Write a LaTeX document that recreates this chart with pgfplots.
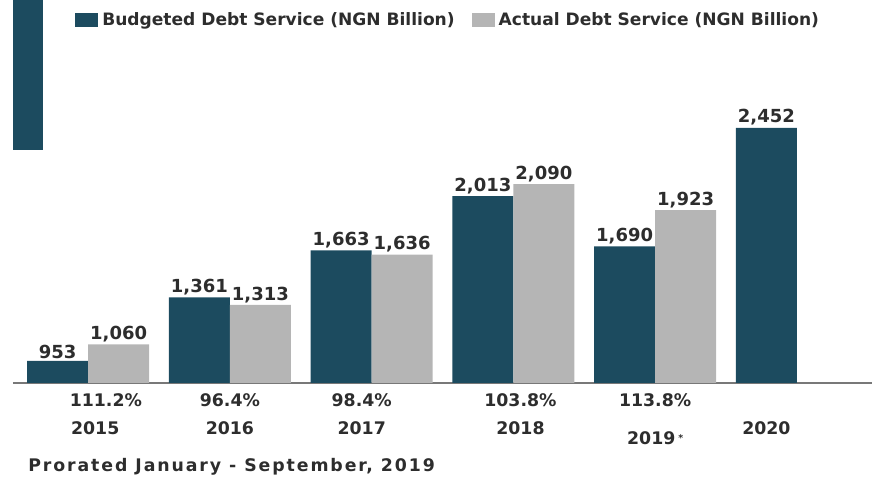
\documentclass[border=0pt]{standalone}
\usepackage{pgfplots}
\pgfplotsset{compat=1.18}
\usepackage{fontspec}
\setmainfont{DejaVu Sans}
\newfontfamily\footfont{DejaVu Sans}[LetterSpace=11]

\definecolor{barblue}{RGB}{28,75,95}
\definecolor{bargray}{RGB}{181,181,181}
\definecolor{axisgray}{RGB}{120,120,120}
\definecolor{txt}{RGB}{45,45,45}

\begin{document}
\begin{tikzpicture}
  % 1px = 0.75pt, picture 872x477 px
  \path[use as bounding box] (0,0) rectangle (654pt,357.75pt);
  % dark strip at the top left of the reference
  \fill[barblue] (9.75pt,245.25pt) rectangle (32.25pt,357.75pt);

  \begin{axis}[
      scale only axis,
      width=644.25pt, height=214.5pt,
      at={(9.75pt,70.5pt)}, anchor=south west,
      ybar=0pt,
      bar width=0.43,
      xmin=-0.53, xmax=5.53,
      ymin=811, ymax=2650,
      axis x line*=bottom,
      axis y line=none,
      x axis line style={axisgray, line width=2pt, shorten >=-12pt},
      major tick length=0pt,
      xtick={0.05,1,1.93,3.05,4,4.785},
      xticklabels={
        {\hspace*{16pt}111.2\%\\2015},
        {96.4\%\\2016},
        {98.4\%\\2017},
        {103.8\%\\2018},
        {113.8\%\\[7.5pt]2019\,\raisebox{0.35ex}{\fontsize{7}{7}\selectfont*}},
        {\vphantom{1}\\2020}},
      xticklabel style={font=\bfseries\fontsize{13}{21}\selectfont, text=txt,
        align=center, anchor=north, inner sep=0pt, yshift=-8pt},
      /pgf/number format/assume math mode=true,
      /pgf/number format/1000 sep={,},
      nodes near coords,
      nodes near coords style={font=\bfseries\fontsize{13.5}{14}\selectfont,
        text=txt, anchor=south, inner sep=1.5pt},
      legend columns=2,
      legend image code/.code={\fill[#1] (0pt,-5.25pt) rectangle (17.25pt,5.25pt);},
      legend style={draw=none, fill=none, inner sep=0pt,
        at={(axis description cs:0.0722,1.2692)}, anchor=west,
        font=\bfseries\fontsize{12.8}{14}\selectfont, text=txt,
        nodes={inner sep=0pt},
        /tikz/every odd column/.append style={column sep=3pt},
        /tikz/every even column/.append style={column sep=12.75pt}},
    ]
    \addplot[fill=barblue, draw=none] coordinates {
      (0,953) (1,1361) (2,1663) (3,2013) (4,1690) (5,2452)
    };
    \addplot[fill=bargray, draw=none] coordinates {
      (0,1060) (1,1313) (2,1636) (3,2090) (4,1923)
    };
    \legend{Budgeted Debt Service (NGN Billion), Actual Debt Service (NGN Billion)}
  \end{axis}

  \node[anchor=west, inner sep=0pt, text=txt] at (21pt,7.5pt)
    {\footfont\bfseries\fontsize{13}{14}\selectfont Prorated January - September, 2019};
\end{tikzpicture}
\end{document}
